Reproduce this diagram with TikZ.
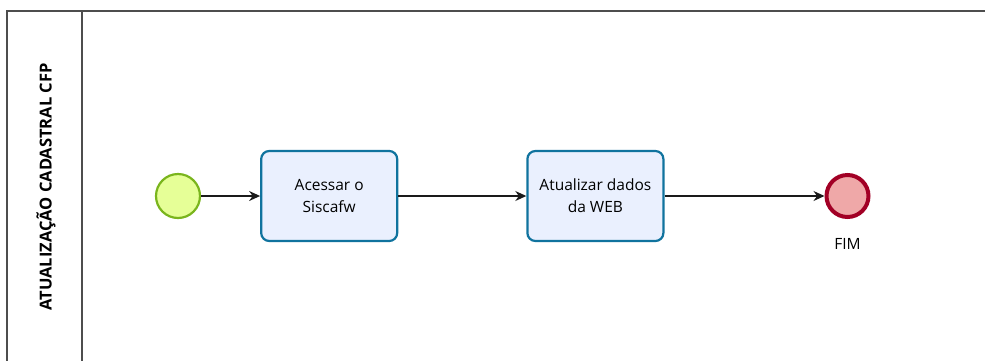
\documentclass[tikz,border=0pt]{standalone}
\usepackage{fontspec}
\setmainfont{Open Sans}
\usetikzlibrary{positioning,arrows.meta}
\definecolor{poolline}{HTML}{4D4D4D}
\definecolor{startfill}{HTML}{E6FF97}
\definecolor{startline}{HTML}{7AB51D}
\definecolor{taskfill}{HTML}{EAF0FE}
\definecolor{taskline}{HTML}{10739E}
\definecolor{endfill}{HTML}{EFA8A8}
\definecolor{endline}{HTML}{A20025}
\definecolor{flowline}{HTML}{1A1A1A}
\begin{document}
\begin{tikzpicture}[x=1pt,y=-1pt,node distance=60pt,
  task/.style={draw=taskline,fill=taskfill,line width=2.2pt,rounded corners=8pt,
    minimum width=136pt,minimum height=90pt,align=center,
    font=\fontsize{15.5}{22}\selectfont},
  flow/.style={draw=flowline,line width=1.3pt,-{Stealth[length=11pt,width=10pt]}}]
  \useasboundingbox (0,0) rectangle (985,360);
  \clip (0,0) rectangle (985,360);
  % pool and lane
  \draw[poolline,line width=2pt] (7,11) rectangle (1010,380);
  \draw[poolline,line width=1.5pt] (82,11) -- (82,380);
  \node[rotate=90,font=\bfseries\fontsize{16.5}{18}\selectfont] (lane) at (46,187) {ATUALIZAÇÃO CADASTRAL CFP};
  % events and tasks
  \node[circle,draw=startline,fill=startfill,line width=2.2pt,minimum size=44pt,inner sep=0pt] (start) at (178,196) {};
  \node (acessar) [task,right=59pt of start] {Acessar o\\Siscafw};
  \node (atualizar) [task,right=128pt of acessar] {Atualizar dados\\da WEB};
  \node[circle,draw=endline,fill=endfill,line width=4pt,minimum size=42pt,inner sep=0pt,right=160pt of atualizar] (fim) {};
  \node (fimlabel) [below=16pt of fim,font=\fontsize{15.5}{18}\selectfont] {FIM};
  \draw[flow] (start) -- (acessar);
  \draw[flow] (acessar) -- (atualizar);
  \draw[flow] (atualizar) -- (fim);
\end{tikzpicture}
\end{document}
